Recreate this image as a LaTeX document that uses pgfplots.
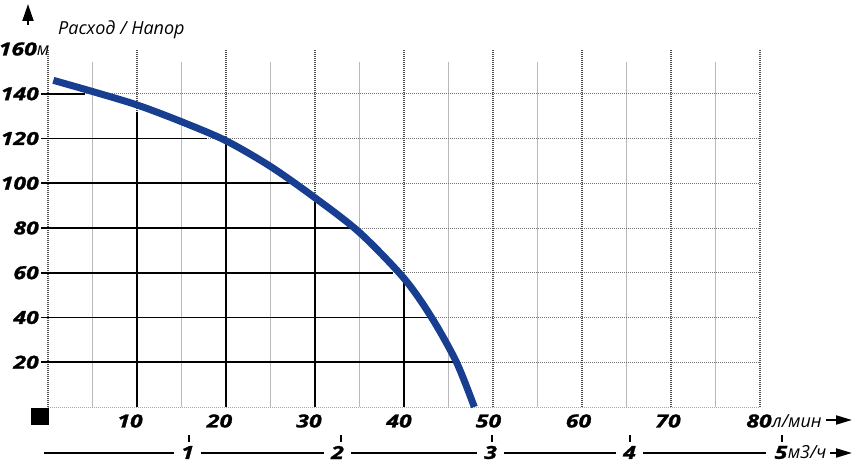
\documentclass[border=0pt]{standalone}
\usepackage{fontspec}
\setmainfont{Open Sans}
\newfontfamily\numfont{Open Sans}[FakeStretch=1.28, FakeBold=1.3]
\usepackage{pgfplots}
\pgfplotsset{compat=1.18}
\usetikzlibrary{arrows.meta}
\definecolor{curveblue}{RGB}{24,62,145}
\newcommand{\nf}{\numfont\bfseries\itshape\fontsize{18}{20}\selectfont}
\newcommand{\lf}{\normalfont\itshape\fontsize{18}{20}\selectfont}
\begin{document}
\begin{tikzpicture}[x=1pt,y=1pt]
\path[use as bounding box] (0,0) rectangle (855,463);
\begin{axis}[at={(48pt,56pt)}, anchor=south west, scale only axis,
  width=712pt, height=358pt, xmin=0, xmax=80, ymin=0, ymax=160,
  hide axis, clip=false]
% minor vertical grid
\pgfplotsinvokeforeach{5,15,...,75}{
  \draw[gray!55, line width=0.7pt] (axis cs:#1,0) -- (axis cs:#1,154);
}
% horizontal dotted grid
\pgfplotsinvokeforeach{20,40,...,140}{
  \draw[gray!90!black, line width=0.8pt, dash pattern=on 1pt off 1pt] (axis cs:0,#1) -- (axis cs:80,#1);
}
\draw[gray!70, line width=0.8pt, dash pattern=on 1pt off 1pt] (axis cs:0,0) -- (axis cs:80,0);
% major vertical dotted grid
\pgfplotsinvokeforeach{0,10,...,80}{
  \draw[gray!60!black, line width=1.3pt, dash pattern=on 1pt off 1pt] (axis cs:#1,0) -- (axis cs:#1,160);
}
% black lines under the curve
\addplot[black, line width=1.6pt] coordinates {(-0.8,140) (4.2,140)};
\addplot[black, line width=1.6pt] coordinates {(-0.8,120) (17.9,120)};
\addplot[black, line width=1.6pt] coordinates {(-0.8,100) (27.2,100)};
\addplot[black, line width=1.6pt] coordinates {(-0.8,80) (33.9,80)};
\addplot[black, line width=1.6pt] coordinates {(-0.8,60) (38.8,60)};
\addplot[black, line width=1.6pt] coordinates {(-0.8,40) (43.2,40)};
\addplot[black, line width=1.6pt] coordinates {(-0.8,20) (45.5,20)};
\addplot[black, line width=1.6pt] coordinates {(10,0) (10,132)};
\addplot[black, line width=1.6pt] coordinates {(20,0) (20,118.6)};
\addplot[black, line width=1.6pt] coordinates {(30,0) (30,91.5)};
\addplot[black, line width=1.6pt] coordinates {(40,0) (40,55.5)};
% pump curve
\addplot[curveblue, line width=7pt, smooth] coordinates {
  (0.6,146) (5,141) (10,135) (15,127.5) (20,119) (25,107.5) (30,93.5)
  (35,78) (40,57.5) (43.1,40) (45.9,20) (47.9,0)};
% y labels
\pgfplotsinvokeforeach{20,40,...,140}{
  \node[anchor=east, inner sep=0pt, xshift=-9pt] at (axis cs:0,#1) {\nf #1};
}
\node[anchor=east, inner sep=0pt, xshift=1.5pt] at (axis cs:0,160) {\nf 160{\lf м}};
\end{axis}
% origin square
\fill[black] (31,38) rectangle (49,55);
% x labels
\node[inner sep=0pt] at (130,42) {\nf 10};
\node[inner sep=0pt] at (219.5,42) {\nf 20};
\node[inner sep=0pt] at (309,42) {\nf 30};
\node[inner sep=0pt] at (399,42) {\nf 40};
\node[inner sep=0pt] at (488.5,42) {\nf 50};
\node[inner sep=0pt] at (578.5,42) {\nf 60};
\node[inner sep=0pt] at (668,42) {\nf 70};
\node[inner sep=0pt] (n80) at (759,42) {\nf 80};
\node[anchor=base west, inner sep=0pt] at (n80.base east) {\lf л/мин};
\draw[line width=2pt, -{Triangle[length=16pt,width=9pt]}] (826,43) -- (852,43);
% second axis (m3/h)
\draw[line width=2pt] (44,10) -- (766,10);
\foreach \t in {189,341,492,630,782} {\draw[line width=1.5pt] (\t,21) -- (\t,28);}
\node[fill=white, inner xsep=7pt, inner ysep=1pt] at (187.5,10.5) {\nf 1};
\node[fill=white, inner xsep=7pt, inner ysep=1pt] at (337.5,10.5) {\nf 2};
\node[fill=white, inner xsep=7pt, inner ysep=1pt] at (490.5,10.5) {\nf 3};
\node[fill=white, inner xsep=7pt, inner ysep=1pt] at (629.5,10.5) {\nf 4};
\node[inner sep=0pt] (n5) at (781,10.5) {\nf 5};
\node[anchor=base west, inner sep=0pt] at (n5.base east) {\lf м3/ч};
\draw[line width=2pt, -{Triangle[length=16pt,width=9pt]}] (830,10) -- (852,10);
% y arrow and title
\draw[line width=2pt, -{Triangle[length=17pt,width=11pt]}] (28,438) -- (28,459);
\node[anchor=base west, inner sep=0pt] at (58,428.5) {\lf Расход / Напор};
\end{tikzpicture}
\end{document}
